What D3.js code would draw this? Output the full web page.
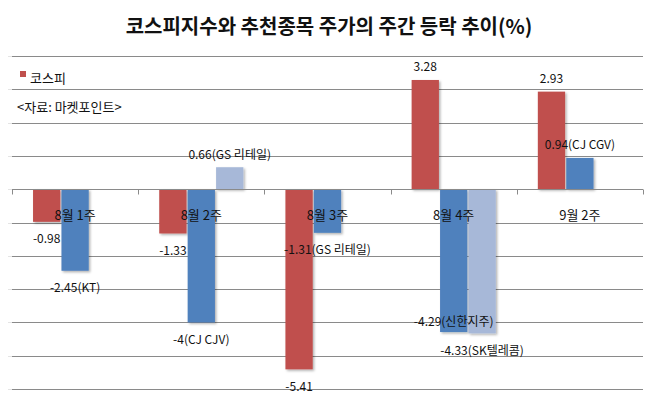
<!DOCTYPE html>
<html><head><meta charset="utf-8">
<script src="https://cdn.jsdelivr.net/npm/d3@7"></script>
<style>
html,body{margin:0;padding:0;background:#fff;}
svg{display:block;font-family:"Noto Sans CJK KR","Noto Sans",sans-serif;}
</style></head>
<body><svg id="chart" width="656" height="401"></svg>
<script>
const title = "코스피지수와 추천종목 주가의 주간 등락 추이(%)";
const categories = ["8월 1주", "8월 2주", "8월 3주", "8월 4주", "9월 2주"];
const seriesNames = ["코스피", "추천종목1", "추천종목2"];
const kospi = [-0.98, -1.33, -5.41, 3.28, 2.93];
const pick1 = [-2.45, -4, -1.31, -4.29, 0.94];
const pick1Names = ["KT", "CJ CJV", "GS 리테일", "신한지주", "CJ CGV"];
const pick2 = [null, 0.66, null, -4.33, null];
const pick2Names = [null, "GS 리테일", null, "SK텔레콤", null];
const yTicks = [-6, -5, -4, -3, -2, -1, 0, 1, 2, 3, 4];
const legendLabel = "코스피";
const sourceNote = "<자료: 마켓포인트>";
const colors = ["#C0504D", "#4F81BD", "#A7B8D8"];

const svg = d3.select("#chart");
const plot = {left: 12, right: 643, top: 56, bottom: 389};

const x = d3.scaleBand().domain(categories).range([plot.left, plot.right])
  .paddingInner(1/3).paddingOuter(1/6);
const xs = d3.scaleBand().domain([0,1,2]).range([0, x.bandwidth()]).paddingInner(0.04);
const y = d3.scaleLinear().domain([-6, 4]).range([plot.bottom, plot.top]);

// shadow filter
const defs = svg.append("defs");
const f = defs.append("filter").attr("id","sh").attr("x","-20%").attr("y","-20%").attr("width","150%").attr("height","150%");
f.append("feDropShadow").attr("dx",1.5).attr("dy",1.5).attr("stdDeviation",1.2).attr("flood-color","#000").attr("flood-opacity",0.3);

// title
svg.append("text").attr("x", 329).attr("y", 25).attr("text-anchor","middle")
  .attr("dominant-baseline","central").attr("font-size", 20).attr("font-weight", 700)
  .attr("fill","#111").text(title);

// gridlines
svg.append("g").selectAll("line").data(yTicks.filter(d => d !== 0)).join("line")
  .attr("x1", plot.left).attr("x2", plot.right)
  .attr("y1", d => Math.round(y(d)) + 0.5).attr("y2", d => Math.round(y(d)) + 0.5)
  .attr("stroke", "#8a8a8a").attr("stroke-width", 1);
// faint value-axis ticks
svg.append("g").selectAll("line").data(yTicks).join("line")
  .attr("x1", plot.left - 4).attr("x2", plot.left)
  .attr("y1", d => Math.round(y(d)) + 0.5).attr("y2", d => Math.round(y(d)) + 0.5)
  .attr("stroke", "#e4e4e4");

// bars
const rows = [];
categories.forEach((c, i) => {
  [kospi[i], pick1[i], pick2[i]].forEach((v, s) => {
    if (v !== null) rows.push({c, i, s, v});
  });
});
svg.append("g").selectAll("rect").data(rows).join("rect")
  .attr("x", d => x(d.c) + xs(d.s))
  .attr("width", xs.bandwidth())
  .attr("y", d => Math.min(y(d.v), y(0)))
  .attr("height", d => Math.abs(y(d.v) - y(0)))
  .attr("fill", d => colors[d.s])
  .attr("filter", "url(#sh)");

// zero axis with ticks
const y0 = Math.round(y(0)) + 0.5;
svg.append("line").attr("x1", plot.left).attr("x2", plot.right).attr("y1", y0).attr("y2", y0)
  .attr("stroke", "#8a8a8a");
const bounds = categories.map(c => x(c) - x.step() * x.paddingInner() / 2);
bounds.push(plot.right);
bounds[0] = plot.left;
svg.append("g").selectAll("line").data(bounds).join("line")
  .attr("x1", d => Math.round(d) + 0.5).attr("x2", d => Math.round(d) + 0.5)
  .attr("y1", y0).attr("y2", y0 + 5).attr("stroke", "#8a8a8a");

// category labels
svg.append("g").selectAll("text").data(categories).join("text")
  .attr("x", d => x(d) + x.bandwidth() / 2).attr("y", 214)
  .attr("text-anchor","middle").attr("dominant-baseline","central")
  .attr("font-size", 13).attr("fill","#111").text(d => d);

// data labels
const labelText = d => {
  if (d.s === 0) return String(d.v);
  const nm = d.s === 1 ? pick1Names[d.i] : pick2Names[d.i];
  return d.v + "(" + nm + ")";
};
const insideLabels = ["신한지주"];
const labelY = d => {
  const nm = d.s === 1 ? pick1Names[d.i] : d.s === 2 ? pick2Names[d.i] : null;
  if (insideLabels.includes(nm)) return y(d.v) - 12;
  return d.v < 0 ? y(d.v) + 16 : y(d.v) - 14;
};
svg.append("g").selectAll("text").data(rows).join("text")
  .attr("x", d => x(d.c) + xs(d.s) + xs.bandwidth() / 2)
  .attr("y", labelY)
  .attr("text-anchor","middle").attr("dominant-baseline","central")
  .attr("font-size", 12).attr("fill","#111").text(labelText);

// legend
svg.append("rect").attr("x", 20).attr("y", 71).attr("width", 6).attr("height", 6).attr("fill", colors[0]);
svg.append("text").attr("x", 30).attr("y", 77).attr("dominant-baseline","central")
  .attr("font-size", 13).attr("fill","#111").text(legendLabel);
svg.append("text").attr("x", 17).attr("y", 106).attr("dominant-baseline","central")
  .attr("font-size", 13).attr("fill","#111").text(sourceNote);
</script></body></html>
